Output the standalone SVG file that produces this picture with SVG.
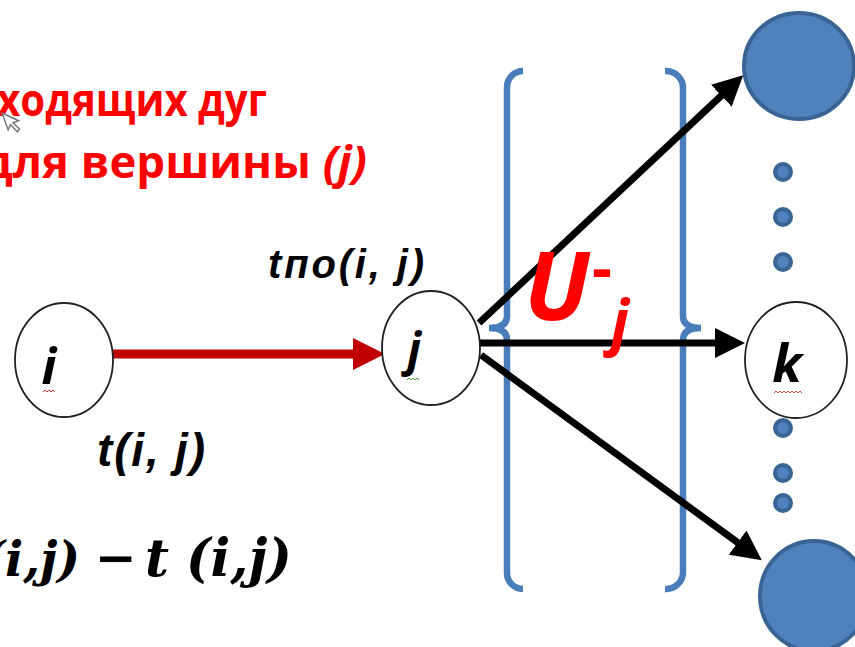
<svg xmlns="http://www.w3.org/2000/svg" width="855" height="647" viewBox="0 0 855 647">
<defs>
<style>
.node{fill:#fff;stroke:#222;stroke-width:1.8}
.blue{fill:#4f81bd;stroke:#3a6494;stroke-width:4}
.dot{fill:#4f81bd;stroke:#3a6494;stroke-width:4}
.brace{fill:none;stroke:#4a7ebb;stroke-width:6.5}
.arc{stroke:#000;stroke-width:7;fill:none}
.lbl{font-family:"Open Sans","Liberation Sans",sans-serif;font-weight:bold;font-style:italic;fill:#000}
.lbl2{font-family:"Liberation Sans","Open Sans",sans-serif;font-weight:bold;font-style:italic;fill:#000}
.red{font-family:"Open Sans","Liberation Sans",sans-serif;font-weight:bold;fill:#ff0000}
.math{font-family:"DejaVu Serif","Liberation Serif",serif;font-weight:bold;font-style:italic;fill:#000}
</style>
<marker id="ah" viewBox="0 0 30 30" markerUnits="userSpaceOnUse" markerWidth="30" markerHeight="30" refX="10" refY="15" orient="auto"><path d="M0,0 L30,15 L0,30 z" fill="#000"/></marker>
<marker id="ahr" viewBox="0 0 32 32" markerUnits="userSpaceOnUse" markerWidth="32" markerHeight="32" refX="10" refY="16" orient="auto"><path d="M0,0 L32,16 L0,32 z" fill="#c00000"/></marker>
</defs>
<rect width="855" height="647" fill="#fff"/>

<g id="title">
<text class="red" font-size="45" x="-3" y="116" textLength="270" lengthAdjust="spacingAndGlyphs">ходящих дуг</text>
<text class="red" font-size="45.5" x="367" y="178" text-anchor="end">для вершины <tspan font-style="italic">(j)</tspan></text>
</g>

<g id="cursor"><path d="M2,113 L2,131 L6,127 L10,136 L13,134 L9,126 L15,126 z" fill="#fff" stroke="#777" stroke-width="1.5" transform="rotate(-20 2 113)"/></g>

<g id="braces">
<path class="brace" d="M523,71 A16,16 0 0 0 507,87 L507,316 Q507,328 489,328 Q507,328 507,340 L507,573 A16,16 0 0 0 523,589"/>
<path class="brace" d="M665,71 A17,17 0 0 1 683,88 L683,316 Q683,328 701,328 Q683,328 683,340 L683,571 A17,17 0 0 1 665,589"/>
</g>

<g id="connectors">
<line x1="113" y1="354" x2="363" y2="354" stroke="#c00000" stroke-width="9" marker-end="url(#ahr)"/>
<line class="arc" x1="479" y1="323" x2="728.6" y2="88.9" marker-end="url(#ah)"/>
<line class="arc" x1="480" y1="343" x2="725" y2="343" marker-end="url(#ah)"/>
<line class="arc" x1="481" y1="355" x2="745.7" y2="548.4" marker-end="url(#ah)"/>
</g>

<g id="node-i">
<ellipse class="node" cx="64" cy="360" rx="49" ry="57"/>
<text class="lbl" font-size="50" x="49" y="384" text-anchor="middle">i</text>
<path d="M43,392 l2,-2 l2,2 l2,-2 l2,2 l2,-2 l2,2" fill="none" stroke="#d04040" stroke-width="1"/>
</g>

<g id="node-j">
<ellipse class="node" cx="431" cy="348" rx="49" ry="57"/>
<text class="lbl" font-size="46" x="414" y="366" text-anchor="middle">j</text>
<path d="M407,380 l2,-2 l2,2 l2,-2 l2,2 l2,-2 l2,2" fill="none" stroke="#40a040" stroke-width="1"/>
</g>

<g id="node-k">
<ellipse class="node" cx="796" cy="360" rx="51" ry="58"/>
<text class="lbl" font-size="52" x="787" y="382" text-anchor="middle">k</text>
<path d="M774,393 l2,-2 l2,2 l2,-2 l2,2 l2,-2 l2,2 l2,-2 l2,2 l2,-2 l2,2 l2,-2 l2,2 l2,-2 l2,2" fill="none" stroke="#d04040" stroke-width="1"/>
</g>

<g id="node-top"><ellipse class="blue" cx="799" cy="66" rx="55" ry="53"/></g>
<g id="node-bottom"><ellipse class="blue" cx="814" cy="596" rx="54" ry="55"/></g>

<g id="dots">
<circle class="dot" cx="783" cy="172" r="8"/>
<circle class="dot" cx="783" cy="217" r="8"/>
<circle class="dot" cx="783" cy="262" r="8"/>
<circle class="dot" cx="783" cy="428" r="8"/>
<circle class="dot" cx="783" cy="473" r="8"/>
<circle class="dot" cx="783" cy="503" r="8"/>
</g>

<g id="labels">
<text class="lbl2" font-size="40" x="268" y="278" textLength="156" lengthAdjust="spacing">tпо(i, j)</text>
<text class="lbl2" font-size="46" x="97" y="466" textLength="108" lengthAdjust="spacing">t(i, j)</text>
<text font-family="'Open Sans','Liberation Sans',sans-serif" font-weight="bold" font-style="italic" fill="#ff0000" font-size="95" x="524" y="320">U</text>
<text font-family="'Open Sans','Liberation Sans',sans-serif" font-weight="bold" fill="#ff0000" font-size="62" x="592" y="290">-</text>
<text font-family="'Open Sans','Liberation Sans',sans-serif" font-weight="bold" font-style="italic" fill="#ff0000" font-size="60" x="611" y="343">j</text>
</g>

<g id="formula">
<text class="math" font-size="48" x="80" y="576" text-anchor="end">(i,j)</text>
<text class="math" font-size="50" x="95" y="575">−</text>
<text class="math" font-size="52" x="145" y="576">t</text>
<text class="math" font-size="52" x="186" y="576">(i,j)</text>
</g>
</svg>
